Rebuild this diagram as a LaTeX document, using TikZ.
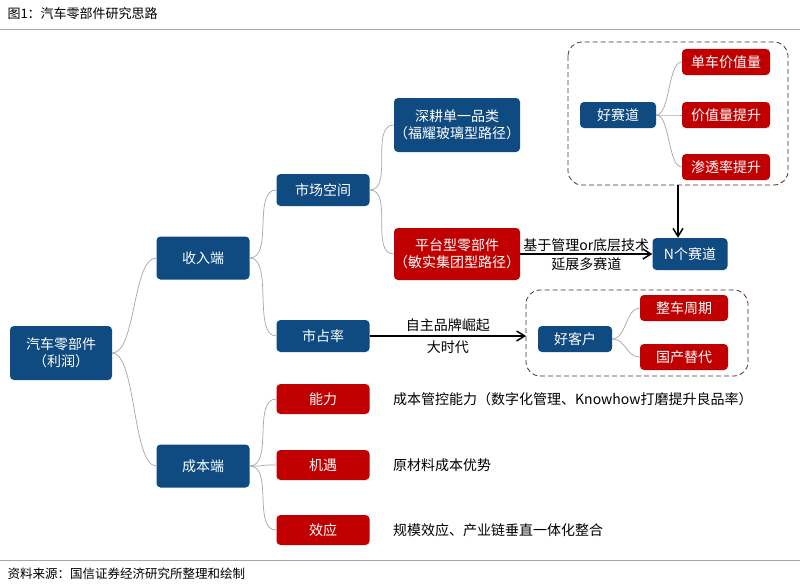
\documentclass[tikz,border=0pt]{standalone}
\usepackage{fontspec}
\setmainfont{Noto Sans CJK SC}
\usetikzlibrary{arrows.meta}
\definecolor{bl}{HTML}{0F4A80}
\definecolor{rd}{HTML}{C00000}
\begin{document}
\begin{tikzpicture}[x=1pt,y=-1pt,
 box/.style={draw=none,rounded corners=4pt,text=white,align=center,font=\fontsize{14}{17}\selectfont,inner sep=0pt},
 B/.style={box,fill=bl},R/.style={box,fill=rd},
 lk/.style={draw=gray!70,line width=0.7pt},
 ar/.style={draw=black,line width=1.5pt,-{Straight Barb[length=8pt,width=10pt]}},
 tx/.style={font=\fontsize{14}{17}\selectfont,inner sep=1pt},
 dbox/.style={draw=gray!70!red!50!black,dashed,dash pattern=on 5pt off 3pt,rounded corners=14pt,line width=0.8pt}]
\useasboundingbox (0,0) rectangle (800,586);
\fill[white] (0,0) rectangle (800,586);
\node[anchor=west,font=\fontsize{13}{15}\selectfont] (title) at (4,14) {图1：汽车零部件研究思路};
\draw[gray!70,line width=0.8pt] (0,29) -- (800,29);
\draw[gray!70,line width=0.8pt] (0,560) -- (800,560);
\node[anchor=west,font=\fontsize{12.5}{14}\selectfont] (src) at (4,574) {资料来源：国信证券经济研究所整理和绘制};

\draw[dbox] (568,42) rectangle (788,185);
\draw[dbox] (526,290) rectangle (748,376);
\coordinate (db1) at (678,185);
\coordinate (db2) at (526,336);

\node[B,minimum width=102,minimum height=54] (root) at (61,353) {汽车零部件\\（利润）};
\node[B,minimum width=93,minimum height=43] (sr) at (203,258) {收入端};
\node[B,minimum width=93,minimum height=43] (cb) at (203,466) {成本端};
\node[B,minimum width=93,minimum height=32] (sc) at (323,190) {市场空间};
\node[B,minimum width=93,minimum height=32] (sz) at (323,336) {市占率};
\node[B,minimum width=122,minimum height=54] (sg) at (457,125) {深耕单一品类\\（福耀玻璃型路径）};
\node[R,minimum width=122,minimum height=52] (pt) at (457,254) {平台型零部件\\（敏实集团型路径）};
\node[R,minimum width=93,minimum height=30] (nl) at (323,399) {能力};
\node[R,minimum width=93,minimum height=30] (jy) at (323,465) {机遇};
\node[R,minimum width=93,minimum height=30] (xy) at (323,530) {效应};
\node[tx,anchor=west] (t1) at (392,399) {成本管控能力（数字化管理、Knowhow打磨提升良品率）};
\node[tx,anchor=west] (t2) at (392,465) {原材料成本优势};
\node[tx,anchor=west] (t3) at (392,530) {规模效应、产业链垂直一体化整合};
\node[B,minimum width=76,minimum height=26] (hs) at (618,115) {好赛道};
\node[R,minimum width=88,minimum height=26] (d1) at (726,62) {单车价值量};
\node[R,minimum width=88,minimum height=26] (d2) at (726,115) {价值量提升};
\node[R,minimum width=88,minimum height=26] (d3) at (726,167) {渗透率提升};
\node[B,minimum width=75,minimum height=32] (ns) at (690,254) {N个赛道};
\node[B,minimum width=74,minimum height=26] (hk) at (575,339) {好客户};
\node[R,minimum width=88,minimum height=26] (k1) at (684,308) {整车周期};
\node[R,minimum width=88,minimum height=26] (k2) at (684,357) {国产替代};

\foreach \a/\b in {root/sr,root/cb,sr/sc,sr/sz,sc/sg,sc/pt,cb/nl,cb/jy,cb/xy}
  \draw[lk] (\a.east) .. controls +(24,0) and +(-24,0) .. (\b.west);
\foreach \a/\b in {hs/d1,hs/d2,hs/d3,hk/k1,hk/k2}
  \draw[lk] (\a.east) .. controls +(14,0) and +(-14,0) .. (\b.west);

\draw[ar] (db1) -- (ns.north -| db1);
\draw[ar] (pt.east) -- node[tx,above=1pt] (l1) {基于管理or底层技术} node[tx,below=2pt] (l2) {延展多赛道} (ns.west);
\draw[ar] (sz.east) -- node[tx,above=3pt] (l3) {自主品牌崛起} node[tx,below=3pt] (l4) {大时代} (db2);
\end{tikzpicture}
\end{document}
